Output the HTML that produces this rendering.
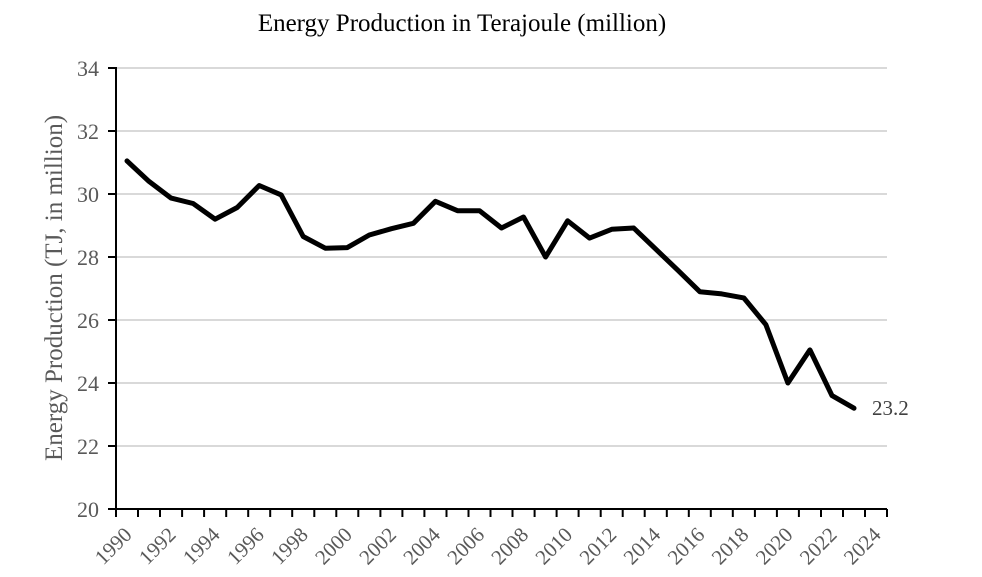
<!DOCTYPE html>
<html><head><meta charset="utf-8"><style>
html,body{margin:0;padding:0;background:#fff;}
svg{display:block;font-family:"Liberation Serif",serif;}
</style></head><body>
<svg width="982" height="577" viewBox="0 0 982 577" xmlns="http://www.w3.org/2000/svg">
<text x="462" y="31" font-size="25" text-anchor="middle" fill="#000">Energy Production in Terajoule (million)</text>
<g stroke="#d9d9d9" stroke-width="2">
<line x1="116" x2="887" y1="68" y2="68"/><line x1="116" x2="887" y1="131" y2="131"/>
<line x1="116" x2="887" y1="194" y2="194"/><line x1="116" x2="887" y1="257" y2="257"/>
<line x1="116" x2="887" y1="320" y2="320"/><line x1="116" x2="887" y1="383" y2="383"/>
<line x1="116" x2="887" y1="446" y2="446"/>
</g>
<g stroke="#000" stroke-width="2">
<line x1="116" x2="116" y1="67" y2="509"/>
<line x1="108" x2="887" y1="509" y2="509"/>
<line x1="108" x2="116" y1="68" y2="68"/><line x1="108" x2="116" y1="131" y2="131"/>
<line x1="108" x2="116" y1="194" y2="194"/><line x1="108" x2="116" y1="257" y2="257"/>
<line x1="108" x2="116" y1="320" y2="320"/><line x1="108" x2="116" y1="383" y2="383"/>
<line x1="108" x2="116" y1="446" y2="446"/>
<path d="M116 509v8M138 509v8M160 509v8M182.1 509v8M204.1 509v8M226.2 509v8M248.2 509v8M270.2 509v8M292.2 509v8M314.3 509v8M336.3 509v8M358.3 509v8M380.4 509v8M402.4 509v8M424.4 509v8M446.5 509v8M468.5 509v8M490.5 509v8M512.5 509v8M534.6 509v8M556.6 509v8M578.6 509v8M600.7 509v8M622.7 509v8M644.7 509v8M666.8 509v8M688.8 509v8M710.8 509v8M732.8 509v8M754.9 509v8M776.9 509v8M798.9 509v8M821 509v8M843 509v8M865 509v8M887 509v8"/>
</g>
<g font-size="22" fill="#595959" text-anchor="end">
<text x="99" y="76">34</text><text x="99" y="139">32</text><text x="99" y="202">30</text>
<text x="99" y="265">28</text><text x="99" y="328">26</text><text x="99" y="391">24</text>
<text x="99" y="454">22</text><text x="99" y="517">20</text>
</g>
<text transform="translate(62,288) rotate(-90)" font-size="25" fill="#595959" text-anchor="middle">Energy Production (TJ, in million)</text>
<g font-size="21" fill="#595959" text-anchor="end">
<text transform="translate(133,536) rotate(-45)">1990</text>
<text transform="translate(177.1,536) rotate(-45)">1992</text>
<text transform="translate(221.1,536) rotate(-45)">1994</text>
<text transform="translate(265.2,536) rotate(-45)">1996</text>
<text transform="translate(309.2,536) rotate(-45)">1998</text>
<text transform="translate(353.3,536) rotate(-45)">2000</text>
<text transform="translate(397.4,536) rotate(-45)">2002</text>
<text transform="translate(441.4,536) rotate(-45)">2004</text>
<text transform="translate(485.5,536) rotate(-45)">2006</text>
<text transform="translate(529.5,536) rotate(-45)">2008</text>
<text transform="translate(573.6,536) rotate(-45)">2010</text>
<text transform="translate(617.7,536) rotate(-45)">2012</text>
<text transform="translate(661.7,536) rotate(-45)">2014</text>
<text transform="translate(705.8,536) rotate(-45)">2016</text>
<text transform="translate(749.8,536) rotate(-45)">2018</text>
<text transform="translate(793.9,536) rotate(-45)">2020</text>
<text transform="translate(838,536) rotate(-45)">2022</text>
<text transform="translate(882,536) rotate(-45)">2024</text>
</g>
<polyline fill="none" stroke="#000" stroke-width="5" stroke-linejoin="round" stroke-linecap="round" points="127,160.9 149,181.4 171.1,198.1 193.1,203.5 215.1,219.2 237.2,207.5 259.2,185.5 281.2,194.9 303.2,236.5 325.3,248.2 347.3,247.6 369.3,235 391.4,228.7 413.4,223.3 435.4,201.3 457.5,210.7 479.5,210.7 501.5,228 523.5,217 545.6,257 567.6,220.8 589.6,238.1 611.7,229.3 633.7,228 655.7,249.1 677.8,270.2 699.8,291.7 721.8,293.9 743.8,297.9 765.9,324.7 787.9,383 809.9,349.9 832,395.6 854,408.2"/>
<text x="872" y="415" font-size="21" fill="#404040">23.2</text>
</svg>
</body></html>
